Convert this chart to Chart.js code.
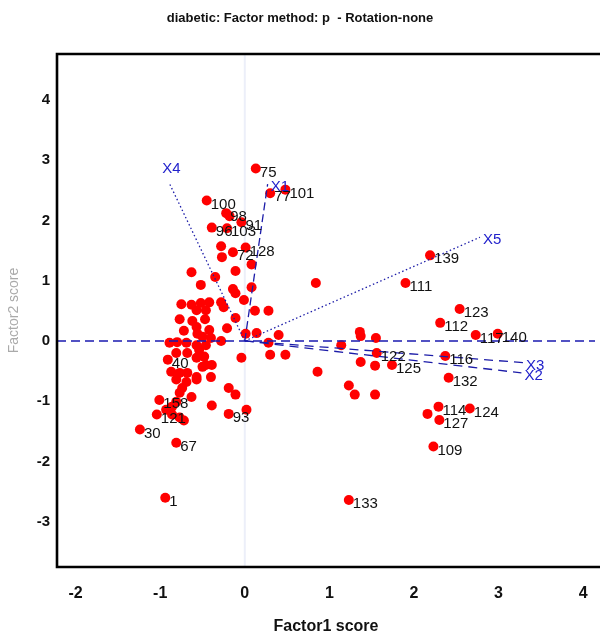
<!DOCTYPE html>
<html><head><meta charset="utf-8">
<script src="https://cdn.jsdelivr.net/npm/chart.js@4.4.1/dist/chart.umd.min.js"></script>
<style>html,body{margin:0;padding:0;background:#fff}canvas{display:block}</style>
</head><body>
<canvas id="c" width="600" height="635" style="width:600px;height:635px"></canvas>
<script>
const chartTitle = 'diabetic: Factor method: p  - Rotation-none';
const xTitle = 'Factor1 score';
const yTitle = 'Factor2 score';
const xTicks = [-2, -1, 0, 1, 2, 3, 4];
const yTicks = [-3, -2, -1, 0, 1, 2, 3, 4];
const xRange = [-2.22, 4.14];
const yRange = [-3.75, 4.76];

const obsX = [0.13,0.48,0.30,-0.45,-0.22,-0.18,-0.04,-0.39,-0.21,-0.28,-0.14,-0.27,0.01,0.08,-0.63,-0.52,-0.35,-0.11,-0.14,-0.11,0.08,-0.01,0.12,0.28,
-0.75,-0.63,-0.52,-0.42,-0.28,-0.25,-0.57,-0.46,-0.77,-0.62,-0.57,-0.47,-0.21,-0.11,-0.72,-0.56,-0.42,-0.40,-0.28,0.01,0.14,0.28,
-0.89,-0.80,-0.69,-0.57,-0.46,-0.81,-0.68,-0.54,-0.48,-0.04,0.30,-0.50,-0.91,-0.57,-0.46,-0.39,-0.87,-0.77,-0.68,-0.57,-0.50,-0.40,
-0.81,-0.69,-0.57,-0.74,-0.77,-0.81,-0.63,-1.01,-0.39,-0.19,-0.11,-0.86,-0.93,-1.04,-0.86,-0.77,-0.72,-1.24,-0.81,-0.94,-0.19,0.02,
0.84,2.19,1.90,2.54,2.31,2.73,2.99,0.40,1.36,1.37,1.55,1.14,0.48,1.56,1.37,1.54,1.74,0.86,2.37,2.41,1.23,1.30,1.54,2.29,2.16,2.30,2.66,2.23,1.23];
const obsY = [2.86,2.51,2.45,2.33,2.12,2.07,1.97,1.88,1.87,1.57,1.47,1.39,1.55,1.27,1.14,0.93,1.06,1.16,0.86,0.79,0.89,0.68,0.50,0.50,
0.61,0.60,0.63,0.64,0.64,0.56,0.51,0.51,0.36,0.33,0.23,0.36,0.21,0.38,0.17,0.12,0.18,0.05,0.00,0.12,0.13,-0.03,
-0.03,-0.02,-0.03,-0.07,-0.07,-0.20,-0.20,-0.15,-0.26,-0.28,-0.23,0.07,-0.31,-0.28,-0.40,-0.40,-0.51,-0.53,-0.53,-0.60,-0.43,-0.60,
-0.64,-0.68,-0.64,-0.78,-0.86,-1.01,-0.93,-0.98,-1.07,-0.78,-0.89,-1.09,-1.14,-1.22,-1.22,-1.27,-1.32,-1.47,-1.69,-2.60,-1.21,-1.14,
0.96,1.42,0.96,0.53,0.30,0.10,0.12,0.10,0.15,0.08,0.05,-0.07,-0.23,-0.20,-0.35,-0.41,-0.40,-0.51,-0.25,-0.61,-0.74,-0.89,-0.89,-1.09,-1.21,-1.31,-1.12,-1.75,-2.64];
const obsLabel = ['75','101','77','100','98','','91','96','103','','72','','128','','','','','','','','','','','',
'','','','','','','','','','','','','','','','','','','','','','',
'','','','','','','','','','','','','40','','','','','','','','','',
'','','','','','','','158','','','','','','121','','','','30','67','1','93','',
'','139','111','123','112','117','140','','','','','','','122','','','125','','116','132','','','','114','','127','124','109','133'];

const varNames = ['X1', 'X2', 'X3', 'X4', 'X5'];
const varX = [0.27, 3.27, 3.29, -0.89, 2.78];
const varY = [2.60, -0.53, -0.36, 2.61, 1.72];

const FONT = '"Liberation Sans", Arial, Helvetica, sans-serif';
const BLUE = '#1c1ca8';
const varDash = {X1: [8, 4], X2: [9, 6], X3: [9, 6], X4: [1.5, 2.5], X5: [1.5, 2.5]};

const datasets = [];
datasets.push({data: [{x: xRange[0], y: 0}, {x: xRange[1], y: 0}], showLine: true, borderColor: '#1a1ab0', borderWidth: 1.5, borderDash: [9, 5], pointRadius: 0, fill: false});
varNames.forEach((n, i) => {
  datasets.push({data: [{x: 0, y: 0}, {x: varX[i], y: varY[i]}], showLine: true, borderColor: BLUE, borderWidth: 1.3, borderDash: varDash[n], pointRadius: 0, fill: false});
});
datasets.push({data: obsX.map((v, i) => ({x: v, y: obsY[i]})), showLine: false, backgroundColor: '#ff0000', borderColor: '#ff0000', borderWidth: 0, pointRadius: 5, pointHoverRadius: 5});
datasets.push({data: [{x: 0, y: yRange[0]}, {x: 0, y: yRange[1]}], showLine: true, borderColor: '#eceff9', borderWidth: 2, pointRadius: 0, fill: false});

const labelPlugin = {
  id: 'pointLabels',
  afterDatasetsDraw(chart) {
    const {ctx, scales: {x, y}} = chart;
    ctx.save();
    ctx.font = '15px ' + FONT;
    ctx.fillStyle = '#111';
    ctx.textBaseline = 'middle';
    ctx.textAlign = 'left';
    obsLabel.forEach((t, i) => {
      if (!t) return;
      ctx.fillText(t, x.getPixelForValue(obsX[i]) + 4, y.getPixelForValue(obsY[i]) + 4);
    });
    ctx.fillStyle = '#2222cc';
    varNames.forEach((n, i) => {
      const px = x.getPixelForValue(varX[i]), py = y.getPixelForValue(varY[i]);
      if (varX[i] < 0) { ctx.textAlign = 'center'; ctx.fillText(n, px + 2, py - 15); }
      else { ctx.textAlign = 'left'; ctx.fillText(n, px + 3, py + 3); }
    });
    ctx.restore();
  },
  afterDraw(chart) {
    const {ctx, chartArea: a} = chart;
    ctx.save();
    ctx.strokeStyle = '#000';
    ctx.lineWidth = 2.6;
    ctx.beginPath();
    ctx.moveTo(chart.width, a.top);
    ctx.lineTo(a.left, a.top);
    ctx.lineTo(a.left, a.bottom);
    ctx.lineTo(chart.width, a.bottom);
    ctx.stroke();
    ctx.restore();
  }
};

new Chart(document.getElementById('c'), {
  type: 'scatter',
  data: {datasets},
  options: {
    responsive: false,
    animation: false,
    devicePixelRatio: 1,
    layout: {padding: 0},
    plugins: {
      legend: {display: false},
      tooltip: {enabled: false},
      title: {display: true, text: chartTitle, color: '#111', font: {family: FONT, size: 13, weight: 'bold'}, padding: {top: 11, bottom: 27.4}}
    },
    scales: {
      x: {
        type: 'linear', min: xRange[0], max: xRange[1],
        grid: {display: false, drawTicks: false},
        border: {display: false},
        afterBuildTicks: s => { s.ticks = xTicks.map(v => ({value: v})); },
        afterFit: s => { s.height = 68; s.paddingLeft = 0; s.paddingRight = 0; },
        ticks: {color: '#111', padding: 17, font: {family: FONT, size: 16, weight: 'bold'}, maxRotation: 0, autoSkip: false},
        title: {display: true, text: xTitle, color: '#111', font: {family: FONT, size: 16, weight: 'bold', lineHeight: 1}, padding: 0}
      },
      y: {
        type: 'linear', min: yRange[0], max: yRange[1],
        grid: {display: false, drawTicks: false},
        border: {display: false},
        afterBuildTicks: s => { s.ticks = yTicks.map(v => ({value: v})); },
        afterFit: s => { s.width = 57; s.paddingTop = 0; s.paddingBottom = 0; },
        ticks: {color: '#111', padding: 7, font: {family: FONT, size: 15, weight: 'bold'}, autoSkip: false},
        title: {display: true, text: yTitle, color: '#aaaaaa', font: {family: FONT, size: 14, lineHeight: 1.2}, padding: {top: 6, bottom: 0}}
      }
    }
  },
  plugins: [labelPlugin]
});
</script>
</body></html>
